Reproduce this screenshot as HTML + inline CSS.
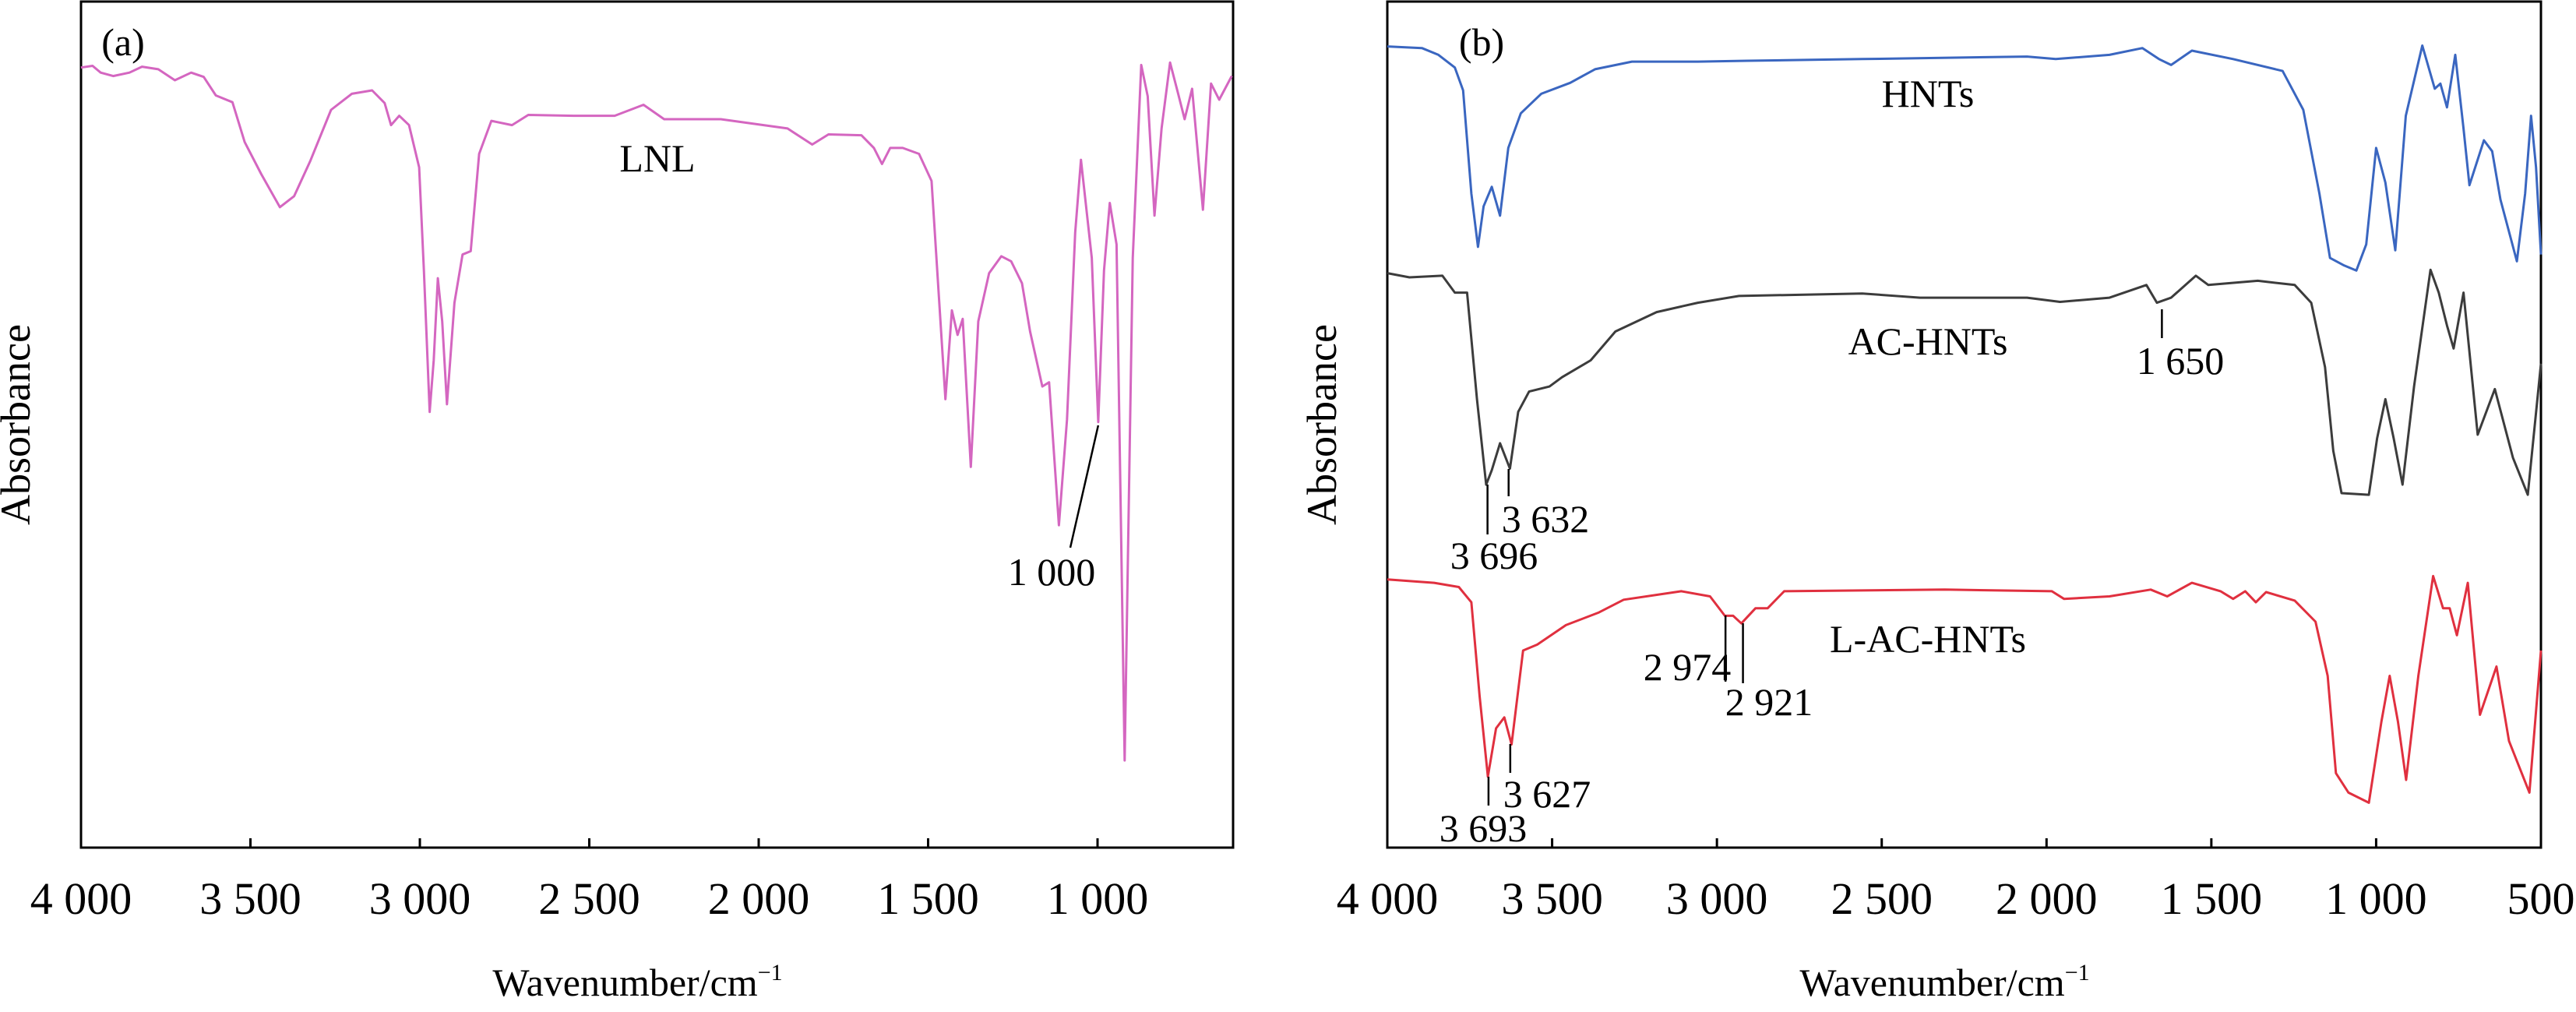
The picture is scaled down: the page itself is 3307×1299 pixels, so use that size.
<!DOCTYPE html>
<html><head><meta charset="utf-8"><style>
html,body{margin:0;padding:0;background:#fff;}
svg{display:block;font-family:"Liberation Serif",serif;}
</style></head><body>
<svg id="c" width="3307" height="1299" viewBox="0 0 3307 1299" xmlns="http://www.w3.org/2000/svg"></svg>
<script>
const lnlWave=[4000,3966,3942,3905,3857,3820,3772,3723,3675,3638,3602,3553,3517,3468,3413,3371,3323,3262,3201,3141,3104,3085,3061,3032,3002,2988,2971,2959,2947,2934,2920,2898,2874,2850,2825,2789,2728,2680,2546,2425,2340,2279,2112,1915,1842,1794,1697,1660,1636,1612,1575,1527,1490,1473,1449,1430,1413,1398,1374,1352,1320,1284,1255,1223,1199,1163,1143,1114,1090,1066,1049,1017,998,981,964,944,920,896,871,852,832,811,786,762,743,721,689,665,641,604];
const lnlAbs=[92.2,92.4,91.6,91.2,91.6,92.3,92.0,90.7,91.6,91.1,88.9,88.1,83.4,79.6,75.7,77.0,81.2,87.2,89.1,89.5,88.0,85.4,86.5,85.4,80.4,68.2,51.5,57.6,67.3,62.2,52.4,64.4,70.1,70.5,82.0,85.9,85.4,86.6,86.5,86.5,87.8,86.1,86.1,85.0,83.1,84.3,84.2,82.7,80.8,82.7,82.7,82.0,78.8,68.2,53.0,63.5,60.6,62.5,45.0,62.2,67.9,69.9,69.3,66.7,61.0,54.5,55.0,38.1,50.6,72.7,81.3,69.7,50.3,68.2,76.2,71.3,10.3,69.7,92.5,88.8,74.7,85.0,92.8,89.1,86.1,89.7,75.4,90.3,88.4,91.2];
const hntWave=[4000,3895,3845,3795,3770,3745,3725,3708,3683,3658,3633,3595,3533,3445,3370,3258,3058,2908,2559,2059,1972,1809,1709,1659,1622,1559,1434,1284,1221,1172,1140,1097,1060,1030,1000,972,942,910,860,822,805,785,760,735,717,673,648,623,573,548,530,515,500];
const hntAbs=[94.7,94.5,93.7,92.2,89.5,77.3,71.0,75.8,78.1,74.7,82.7,86.8,89.1,90.4,92.0,92.9,92.9,93.0,93.2,93.5,93.2,93.7,94.5,93.2,92.5,94.2,93.2,91.8,87.2,77.3,69.7,68.8,68.2,71.3,82.7,78.6,70.6,86.5,94.8,89.7,90.3,87.5,93.7,85.0,78.3,83.6,82.3,76.6,69.3,77.3,86.5,80.4,70.1];
const acWave=[4000,3933,3833,3795,3758,3728,3700,3683,3658,3628,3603,3570,3508,3470,3383,3308,3183,3058,2933,2559,2384,2059,1959,1809,1697,1665,1622,1547,1509,1359,1247,1197,1155,1130,1105,1022,997,972,947,920,885,835,810,785,765,735,692,640,585,540,500];
const acAbs=[67.9,67.4,67.6,65.6,65.6,53.0,42.9,44.6,47.8,44.8,51.5,53.9,54.5,55.6,57.6,61.0,63.3,64.4,65.2,65.5,65.0,65.0,64.5,65.0,66.5,64.4,65.0,67.6,66.5,67.0,66.5,64.4,56.8,46.9,41.9,41.7,48.4,53.0,48.4,42.9,54.5,68.3,65.6,61.7,59.0,65.6,48.8,54.2,46.1,41.7,57.2];
const lacWave=[4000,3858,3783,3745,3720,3695,3670,3645,3623,3588,3545,3458,3358,3283,3108,3021,2976,2951,2926,2883,2846,2796,2309,1984,1947,1809,1684,1634,1559,1472,1434,1397,1365,1334,1247,1184,1147,1122,1084,1022,984,959,934,909,872,827,797,777,755,722,685,635,597,535,500];
const lacAbs=[31.7,31.3,30.8,29.0,17.9,8.4,14.1,15.4,12.2,23.3,24.0,26.3,27.8,29.3,30.3,29.7,27.4,27.4,26.5,28.3,28.3,30.3,30.5,30.3,29.4,29.7,30.5,29.7,31.3,30.3,29.4,30.3,29.0,30.2,29.2,26.7,20.3,8.8,6.5,5.3,14.9,20.3,14.9,8.0,20.3,32.1,28.3,28.3,25.1,31.3,15.7,21.4,12.6,6.5,23.3];
const ticksA=[4000,3500,3000,2500,2000,1500,1000];
const ticksB=[4000,3500,3000,2500,2000,1500,1000,500];
const tickLabelsA=["4 000","3 500","3 000","2 500","2 000","1 500","1 000"];
const tickLabelsB=["4 000","3 500","3 000","2 500","2 000","1 500","1 000","500"];

const svg=document.getElementById('c');
const NS='http://www.w3.org/2000/svg';
function mk(tag,attrs,parent){const e=document.createElementNS(NS,tag);for(const k in attrs)e.setAttribute(k,attrs[k]);(parent||svg).appendChild(e);return e;}
const TOP=2,BOT=1088;
function yS(v){return BOT-(v/100)*(BOT-TOP);}

function panel(L,R,wMax,wMin,ticks,labels,id){
  const g=mk('g',{});
  
  
  const xS=w=>L+(wMax-w)/(wMax-wMin)*(R-L);
  const fr=mk('rect',{x:L,y:TOP,width:R-L,height:BOT-TOP,fill:'none',stroke:'#000','stroke-width':3},g);
  
  
  ticks.forEach((t,i)=>{
    const x=xS(t);
    const tl=mk('line',{x1:x,x2:x,y1:BOT,y2:BOT-12,stroke:'#000','stroke-width':3},g);
    
    
    const tx=mk('text',{x:x,y:1173,'font-size':58,'text-anchor':'middle'},g);
    tx.textContent=labels[i];
    
    
  });
  const xt=mk('text',{x:(L+R)/2-25,y:1278,'font-size':50,'text-anchor':'middle'},g);
  xt.innerHTML='Wavenumber/cm<tspan dy="-20" font-size="30">−1</tspan>';
  
  
  const cx=L-66,cy=545;
  const yt=mk('text',{x:cx,y:cy,'font-size':54,'text-anchor':'middle',transform:`rotate(-90 ${cx} ${cy})`},g);
  yt.textContent='Absorbance';
  
  
  return {g,xS};
}
function curve(p,ws,vs,color,name){
  const d=ws.map((w,i)=>(i?'L':'M')+p.xS(w).toFixed(1)+','+yS(vs[i]).toFixed(1)).join(' ');
  const el=mk('path',{d:d,fill:'none',stroke:color,'stroke-width':3,'stroke-linejoin':'round'},p.g);
  
  
}
function txt(g,x,y,s,fs,name){
  const t=mk('text',{x:x,y:y,'font-size':fs,'text-anchor':'middle','dominant-baseline':'central'},g);
  t.textContent=s;
  
  
}
function ln(g,x1,y1,x2,y2,name){
  const l=mk('line',{x1,y1,x2,y2,stroke:'#000','stroke-width':2.5},g);
  
  
}

const pa=panel(104,1583,4000,600,ticksA,tickLabelsA,'a');
curve(pa,lnlWave,lnlAbs,'#d466c0','lnl-spectrum');
txt(pa.g,158,54,'(a)',50,'panel-label-a');
txt(pa.g,844,203,'LNL',50,'lnl-label');
txt(pa.g,1350,734,'1 000',50,'annotation-1000');
ln(pa.g,1374,703,pa.xS(998),546,'leader-1000');

const pb=panel(1781,3262,4000,500,ticksB,tickLabelsB,'b');
curve(pb,hntWave,hntAbs,'#3a66c0','hnts-spectrum');
curve(pb,acWave,acAbs,'#3c3c3c','ac-hnts-spectrum');
curve(pb,lacWave,lacAbs,'#e0303f','l-ac-hnts-spectrum');
txt(pb.g,1902,54,'(b)',50,'panel-label-b');
txt(pb.g,2475,120,'HNTs',50,'hnts-label');
txt(pb.g,2475,438,'AC-HNTs',50,'ac-hnts-label');
txt(pb.g,2475,820,'L-AC-HNTs',50,'l-ac-hnts-label');
txt(pb.g,2799,463,'1 650',50,'annotation-1650');
ln(pb.g,pb.xS(1650),397,pb.xS(1650),434,'leader-1650');
txt(pb.g,1984,666,'3 632',50,'annotation-3632');
ln(pb.g,pb.xS(3632),602,pb.xS(3632),637,'leader-3632');
txt(pb.g,1918,713,'3 696',50,'annotation-3696');
ln(pb.g,pb.xS(3696),622,pb.xS(3696),686,'leader-3696');
txt(pb.g,2166,856,'2 974',50,'annotation-2974');
ln(pb.g,pb.xS(2974),790,pb.xS(2974),875,'leader-2974');
txt(pb.g,2271,901,'2 921',50,'annotation-2921');
ln(pb.g,pb.xS(2921),800,pb.xS(2921),877,'leader-2921');
txt(pb.g,1986,1019,'3 627',50,'annotation-3627');
ln(pb.g,pb.xS(3627),955,pb.xS(3627),992,'leader-3627');
txt(pb.g,1904,1063,'3 693',50,'annotation-3693');
ln(pb.g,pb.xS(3693),997,pb.xS(3693),1034,'leader-3693');
</script>
</body></html>
